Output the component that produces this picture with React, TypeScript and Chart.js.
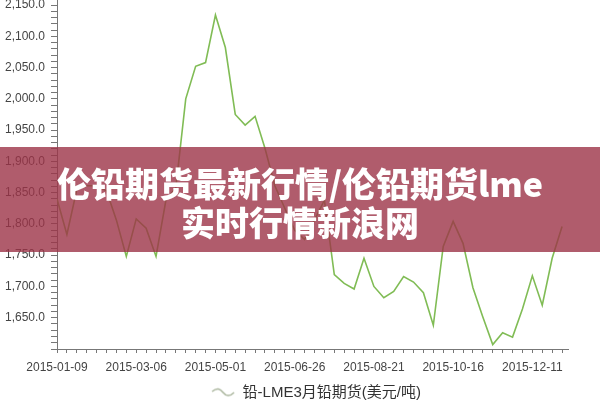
import React, { useEffect, useRef } from "react";
import { Chart, registerables } from "chart.js";

Chart.register(...registerables);

const weeks = [
  "2015-01-09", "2015-01-16", "2015-01-23", "2015-01-30", "2015-02-06", "2015-02-13",
  "2015-02-20", "2015-02-27", "2015-03-06", "2015-03-13", "2015-03-20", "2015-03-27",
  "2015-04-03", "2015-04-10", "2015-04-17", "2015-04-24", "2015-05-01", "2015-05-08",
  "2015-05-15", "2015-05-22", "2015-05-29", "2015-06-05", "2015-06-12", "2015-06-19",
  "2015-06-26", "2015-07-03", "2015-07-10", "2015-07-17", "2015-07-24", "2015-07-31",
  "2015-08-07", "2015-08-14", "2015-08-21", "2015-08-28", "2015-09-04", "2015-09-11",
  "2015-09-18", "2015-09-25", "2015-10-02", "2015-10-09", "2015-10-16", "2015-10-23",
  "2015-10-30", "2015-11-06", "2015-11-13", "2015-11-20", "2015-11-27", "2015-12-04",
  "2015-12-11", "2015-12-18", "2015-12-25", "2015-12-31",
];

const prices = [
  1840, 1783, 1855, 1861, 1861, 1853, 1806, 1748, 1808, 1793, 1748, 1838,
  1858, 2000, 2052, 2058, 2134, 2082, 1975, 1958, 1972, 1921, 1861, 1825,
  1790, 1775, 1806, 1838, 1719, 1705, 1696, 1745, 1700, 1682, 1692, 1716,
  1707, 1690, 1638, 1764, 1804, 1769, 1698, 1651, 1607, 1626, 1619, 1664,
  1717, 1670, 1745, 1796,
];

const seriesName = "铅-LME3月铅期货(美元/吨)";
const titleLines = ["伦铅期货最新行情/伦铅期货lme", "实时行情新浪网"];
const labelEvery = 8;
const yMin = 1600;
const yMax = 2158;
const yStep = 10;
const yLabelEvery = 50;

function makeWave() {
  const c = document.createElement("canvas");
  c.width = 24;
  c.height = 12;
  const ctx = c.getContext("2d");
  if (ctx) {
    ctx.strokeStyle = "#a9b59c";
    ctx.lineWidth = 1.4;
    ctx.beginPath();
    ctx.moveTo(1, 5);
    ctx.bezierCurveTo(6, 1, 9, 2, 12, 6);
    ctx.bezierCurveTo(15, 10, 19, 10, 23, 6);
    ctx.stroke();
  }
  return c;
}

const legendShift = {
  id: "legendShift",
  afterLayout(chart: any) {
    const l = chart.legend;
    if (l) {
      l.left += 32;
      l.right += 32;
      l.top += 10;
      l.bottom += 10;
    }
  },
};

export default function App() {
  const ref = useRef<HTMLCanvasElement | null>(null);

  useEffect(() => {
    if (!ref.current) return;
    const font = "'Liberation Sans', Arial, 'Noto Sans CJK SC', sans-serif";
    const chart = new Chart(ref.current, {
      type: "line",
      data: {
        datasets: [
          {
            label: seriesName,
            data: prices.map((y, i) => ({ x: i, y })),
            borderColor: "#80bc55",
            backgroundColor: "#80bc55",
            borderWidth: 1.6,
            pointRadius: 0,
            tension: 0,
          },
        ],
      },
      plugins: [legendShift],
      options: {
        animation: false,
        responsive: false,
        devicePixelRatio: 1,
        layout: { padding: { left: 0, right: 32, top: 0, bottom: 0 } },
        plugins: {
          tooltip: { enabled: false },
          legend: {
            position: "bottom",
            labels: {
              usePointStyle: true,
              pointStyle: makeWave() as any,
              pointStyleWidth: 24,
              boxHeight: 15,
              padding: 4,
              color: "#333",
              font: { family: font, size: 15 },
            },
          },
        },
        scales: {
          x: {
            type: "linear",
            min: 0,
            max: prices.length - 0.4,
            grid: { display: true, drawOnChartArea: false, drawTicks: true, tickLength: 4, color: "#777" },
            border: { display: true, color: "#777" },
            ticks: {
              stepSize: 1,
              autoSkip: false,
              includeBounds: false,
              maxRotation: 0,
              padding: 7,
              color: "#444",
              font: { family: font, size: 12 },
              callback: (v: any) =>
                Number.isInteger(v) && v % labelEvery === 0 && weeks[v] ? weeks[v] : "",
            },
            afterFit: (s: any) => {
              s.height = 22;
              s.paddingLeft = 0;
              s.paddingRight = 0;
            },
          },
          y: {
            min: yMin,
            max: yMax,
            grid: { display: true, drawOnChartArea: false, drawTicks: true, tickLength: 6, color: "#777" },
            border: { display: true, color: "#777" },
            ticks: {
              stepSize: yStep,
              autoSkip: false,
              includeBounds: false,
              padding: 6,
              color: "#444",
              font: { family: font, size: 12 },
              callback: (v: any) =>
                v > yMin && Math.round(v) === v && v % yLabelEvery === 0
                  ? Number(v).toLocaleString("en-US", { minimumFractionDigits: 1, maximumFractionDigits: 1 })
                  : "",
            },
            afterFit: (s: any) => {
              s.width = 57;
              s.paddingTop = 0;
              s.paddingBottom = 0;
            },
          },
        },
      },
    });
    return () => chart.destroy();
  }, []);

  return (
    <div style={{ position: "fixed", left: 0, top: 0, width: 600, height: 400, background: "#fff", overflow: "hidden" }}>
      <canvas ref={ref} width={600} height={400} style={{ width: 600, height: 400, display: "block" }} />
      <div
        style={{
          position: "absolute",
          left: 0,
          top: 147,
          width: 600,
          height: 105,
          background: "rgba(156,51,71,0.8)",
          display: "flex",
          flexDirection: "column",
          alignItems: "center",
          justifyContent: "center",
          color: "#fff",
          fontFamily: "'Noto Sans CJK SC', sans-serif",
          fontWeight: 900,
          fontSize: 34,
          lineHeight: "39px",
          paddingTop: 4,
          boxSizing: "border-box",
        }}
      >
        {titleLines.map((t) => (
          <div key={t}>{t}</div>
        ))}
      </div>
    </div>
  );
}
